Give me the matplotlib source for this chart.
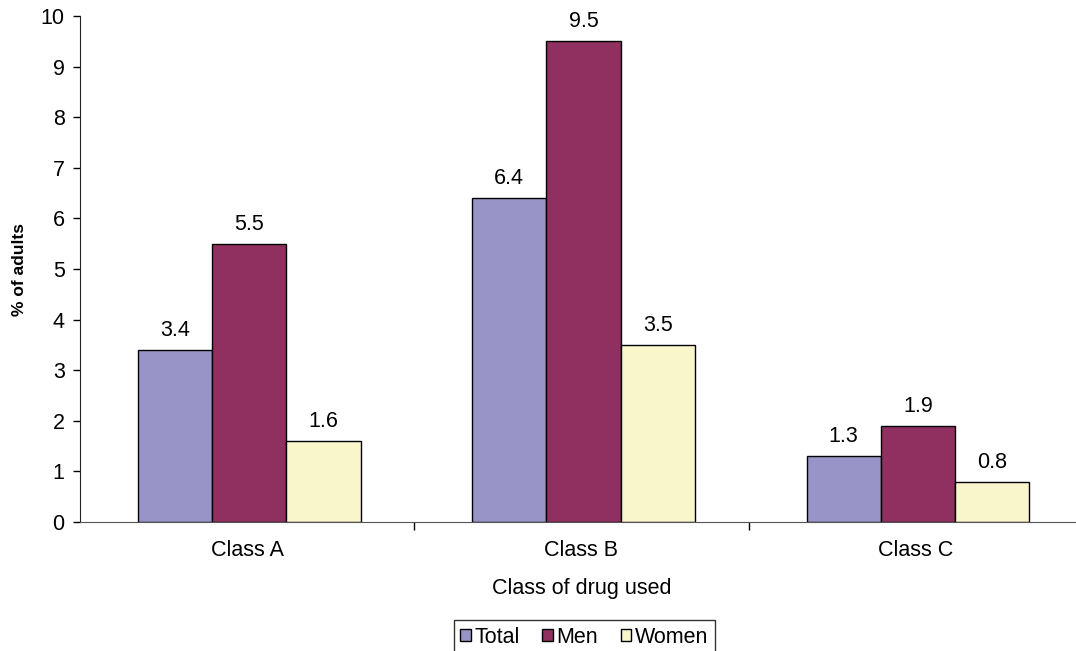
import matplotlib
matplotlib.use("Agg")
import matplotlib.pyplot as plt
import numpy as np

plt.rcParams['font.family'] = ['Liberation Sans', 'DejaVu Sans']

categories = ["Class A", "Class B", "Class C"]
series_names = ["Total", "Men", "Women"]
total = [3.4, 6.4, 1.3]
men = [5.5, 9.5, 1.9]
women = [1.6, 3.5, 0.8]
colors = ["#9894C8", "#8F3060", "#FAF6CC"]
y_ticks = list(range(0, 11))

FS = 15.5

fig = plt.figure(figsize=(10.76, 6.51), dpi=100)
ax = fig.add_axes([80 / 1076, 129 / 651, 1003 / 1076, 506 / 651])

centers = np.arange(len(categories)) + 0.5
width = 0.222
for k, (name, vals, col) in enumerate(zip(series_names, [total, men, women], colors)):
    xs = centers + (k - 1) * width + 0.006
    bars = ax.bar(xs, vals, width=width, color=col, edgecolor="black", linewidth=1.0, label=name, zorder=2)
    for b, v in zip(bars, vals):
        ax.annotate(f"{v:.1f}", (b.get_x() + b.get_width() / 2, v), xytext=(0, 10),
                    textcoords="offset points", ha="center", va="baseline", fontsize=FS)

ax.set_xlim(0, 3)
ax.set_ylim(0, 10)
ax.set_yticks(y_ticks)
ax.tick_params(axis="y", labelsize=FS, length=5, width=1, direction="out", pad=6)

# category boundaries carry the tick marks, labels sit at the centres
ax.set_xticks([1, 2])
ax.set_xticklabels([])
ax.tick_params(axis="x", which="major", length=6, width=1, direction="out")
ax.set_xticks(centers, minor=True)
ax.set_xticklabels(categories, minor=True, fontsize=FS)
ax.tick_params(axis="x", which="minor", length=0, pad=13)

for s in ["top", "right"]:
    ax.spines[s].set_visible(False)
ax.spines["left"].set_color("#222222")
ax.spines["bottom"].set_color("#555555")

ax.set_xlabel("Class of drug used", fontsize=FS, labelpad=12)
ax.set_ylabel("% of adults", fontsize=12.5, fontweight="bold", labelpad=10)

leg = fig.legend(loc="lower center", bbox_to_anchor=(0.543, -0.005), ncol=3, fontsize=FS,
                 frameon=True, fancybox=False, edgecolor="black", handlelength=0.5,
                 handleheight=0.5, handletextpad=0.15, columnspacing=1.05, borderpad=0.3,
                 borderaxespad=0.0)
leg.get_frame().set_linewidth(1.0)

fig.savefig("out.png", dpi=100)
